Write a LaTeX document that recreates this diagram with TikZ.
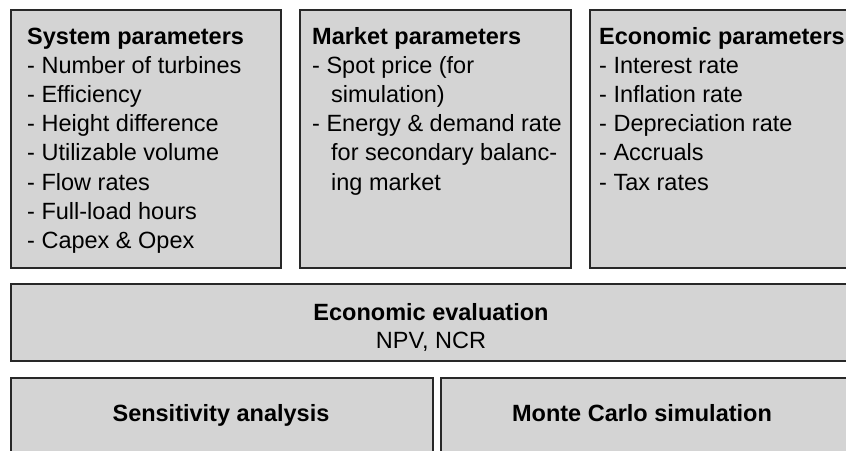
\documentclass[tikz,border=0pt]{standalone}
\usepackage{fontspec}
\setmainfont{Liberation Sans}
\definecolor{boxfill}{RGB}{212,212,212}
\definecolor{boxline}{RGB}{40,40,40}
\begin{document}
\begin{tikzpicture}[x=1pt,y=-1pt,
  box/.style={draw=boxline, line width=2.2pt, fill=boxfill, anchor=north west, inner sep=0pt},
  txt/.style={anchor=base west, inner sep=0pt, font=\fontsize{23.5}{29.2}\selectfont},
  ctxt/.style={anchor=base, inner sep=0pt, font=\fontsize{23.5}{29.2}\selectfont}]
\useasboundingbox (0,0) rectangle (846,450);
\clip (0,0) rectangle (846,450);
\fill[white] (0,0) rectangle (846,450);
% top boxes
\node[box, minimum width=270pt, minimum height=258pt] (sys) at (10,9) {};
\node[box, minimum width=271pt, minimum height=258pt] (mkt) at (299,9) {};
\node[box, minimum width=280pt, minimum height=258pt] (eco) at (589,9) {};
% middle box
\node[box, minimum width=850pt, minimum height=77pt] (eval) at (10,283) {};
% bottom boxes
\node[box, minimum width=422pt, minimum height=100pt] (sens) at (10,377) {};
\node[box, minimum width=406pt, minimum height=100pt] (mc) at (440,377) {};
% texts
\node[txt] (systxt) at (27,44) {\parbox[t]{260pt}{\textbf{System parameters}\\
- Number of turbines\\
- Efficiency\\
- Height difference\\
- Utilizable volume\\
- Flow rates\\
- Full-load hours\\
- Capex \& Opex}};
\node[txt] (mkttxt) at (312,44) {\parbox[t]{260pt}{\textbf{Market parameters}\\
- Spot price (for\\
\hspace*{19pt}simulation)\\
- Energy \& demand rate\\
\hspace*{19pt}for secondary balanc-\\
\hspace*{19pt}ing market}};
\node[txt] (ecotxt) at (599,44) {\parbox[t]{260pt}{\textbf{Economic parameters}\\
- Interest rate\\
- Inflation rate\\
- Depreciation rate\\
- Accruals\\
- Tax rates}};
\node[ctxt] (evaltitle) at (431,320) {\textbf{Economic evaluation}};
\node[ctxt] (evalsub) at (431,348) {NPV, NCR};
\node[ctxt] (senstxt) at (221,421) {\textbf{Sensitivity analysis}};
\node[ctxt] (mctxt) at (642,421) {\textbf{Monte Carlo simulation}};
\end{tikzpicture}
\end{document}
